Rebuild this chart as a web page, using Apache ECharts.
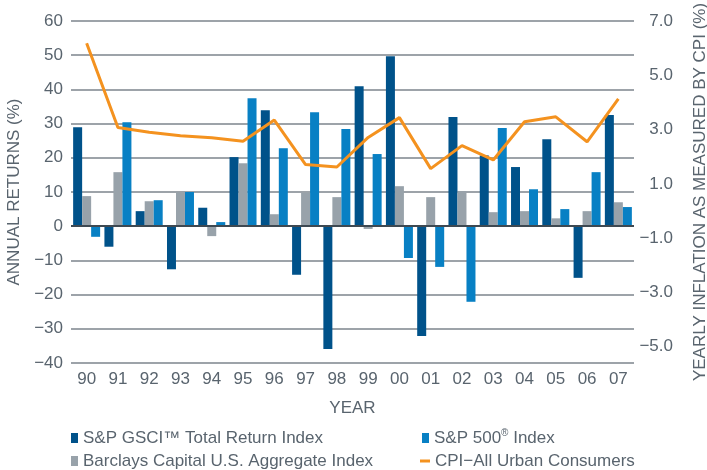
<!DOCTYPE html>
<html>
<head>
<meta charset="utf-8">
<script src="https://cdn.jsdelivr.net/npm/echarts@6/dist/echarts.min.js"></script>
<style>
html,body{margin:0;padding:0;background:#fff;}
#chart{width:707px;height:470px;}
</style>
</head>
<body>
<div id="chart"></div>
<script>
// ---- data ----
const categories = ['90','91','92','93','94','95','96','97','98','99','00','01','02','03','04','05','06','07'];
const gsci     = [28.9, -6.0, 4.4, -12.6, 5.4, 20.2, 33.9, -14.2, -35.9, 40.9, 49.7, -32.1, 31.9, 20.7, 17.3, 25.4, -15.1, 32.5];
const barclays = [8.8, 15.8, 7.3, 9.9, -2.9, 18.4, 3.5, 9.8, 8.5, -0.8, 11.7, 8.5, 10.2, 4.1, 4.4, 2.3, 4.4, 7.0];
const sp500    = [-3.1, 30.4, 7.6, 10.0, 1.2, 37.4, 22.8, 33.3, 28.4, 21.1, -9.3, -11.9, -22.1, 28.7, 10.8, 5.0, 15.8, 5.6];
const cpi      = [6.18, 3.08, 2.90, 2.77, 2.70, 2.57, 3.35, 1.71, 1.62, 2.71, 3.44, 1.56, 2.41, 1.88, 3.29, 3.47, 2.55, 4.13];
const rightTickLabels = [-5, -3, -1, 1, 3, 5, 7];
const names = ['S&P GSCI\u2122 Total Return Index', 'Barclays Capital U.S. Aggregate Index', 'S&P 500\u00AE Index', 'CPI\u2212All Urban Consumers'];

const FONT = "'Liberation Sans', Arial, sans-serif";
const TXT = '#59646e';
const C_GSCI = '#00528a', C_BAR = '#98a2aa', C_SP = '#0880c4', C_CPI = '#f4921f';

function minus(s){ return String(s).replace('-', '\u2212'); }

const chart = echarts.init(document.getElementById('chart'));
const legendBase = {
  orient: 'vertical', itemGap: 0, padding: 0,
  textStyle: {fontFamily: FONT, fontSize: 17, color: TXT, lineHeight: 20,
    rich: {
      n: {fontFamily: FONT, fontSize: 17, color: TXT, lineHeight: 20},
      sup: {fontSize: 10, verticalAlign: 'top', lineHeight: 20, padding: [0, 0, 8, 0], color: TXT, fontFamily: FONT}
    }},
  icon: 'rect', itemWidth: 7, itemHeight: 10, selectedMode: false
};
chart.setOption({
  animation: false,
  grid: {left: 71, right: 73, top: 21, bottom: 107, containLabel: false, outerBoundsMode: 'none'},
  legend: [
    Object.assign({}, legendBase, {left: 71, top: 428, data: [names[0]]}),
    Object.assign({}, legendBase, {left: 71, top: 451, data: [names[1]]}),
    Object.assign({}, legendBase, {left: 422, top: 428, data: [names[2]],
      formatter: function (n) { const p = n.split('\u00AE'); return '{n|' + p[0] + '}{sup|\u00AE}{n|' + p[1] + '}'; }}),
    Object.assign({}, legendBase, {left: 420, top: 451, itemWidth: 10, itemHeight: 3, data: [{name: names[3], icon: 'rect'}]})
  ],
  xAxis: {
    type: 'category', data: categories,
    name: 'YEAR', nameLocation: 'middle', nameGap: 37,
    nameTextStyle: {fontFamily: FONT, fontSize: 17, color: TXT},
    axisLine: {show: false, onZero: false},
    axisTick: {show: false},
    axisLabel: {fontFamily: FONT, fontSize: 17, color: TXT, margin: 8, interval: 0}
  },
  yAxis: [
    {
      type: 'value', min: -40, max: 60, interval: 10,
      name: 'ANNUAL RETURNS (%)', nameLocation: 'middle', nameGap: 41,
      nameTextStyle: {fontFamily: FONT, fontSize: 17, color: TXT},
      axisLine: {show: false}, axisTick: {show: false},
      axisLabel: {fontFamily: FONT, fontSize: 17, color: TXT, margin: 8, formatter: v => minus(v)},
      splitLine: {lineStyle: {color: '#7d858c', width: 1.5}}
    },
    {
      type: 'value', min: -5.6, max: 7, interval: 0.2, position: 'right',
      name: 'YEARLY INFLATION AS MEASURED BY CPI (%)', nameLocation: 'middle', nameGap: 58,
      nameTextStyle: {fontFamily: FONT, fontSize: 17, color: TXT},
      axisLine: {show: false}, axisTick: {show: false}, splitLine: {show: false},
      axisLabel: {
        fontFamily: FONT, fontSize: 17, color: TXT, margin: 39, align: 'right',
        formatter: function (v) {
          const r = Math.round(v * 10) / 10;
          for (const t of rightTickLabels) { if (Math.abs(r - t) < 1e-6) return minus(t.toFixed(1)); }
          return '';
        }
      }
    }
  ],
  series: [
    {name: names[0], type: 'bar', data: gsci, barWidth: 9, barGap: '0%', itemStyle: {color: C_GSCI},
     markLine: {silent: true, symbol: 'none', label: {show: false}, lineStyle: {color: '#3e4952', width: 2, type: 'solid'}, data: [{yAxis: 0}]}},
    {name: names[1], type: 'bar', data: barclays, barWidth: 9, barGap: '0%', itemStyle: {color: C_BAR}},
    {name: names[2], type: 'bar', data: sp500, barWidth: 9, barGap: '0%', itemStyle: {color: C_SP}},
    {name: names[3], type: 'line', yAxisIndex: 1, data: cpi, symbol: 'none', lineStyle: {color: C_CPI, width: 3}, itemStyle: {color: C_CPI}, z: 5}
  ]
});
</script>
</body>
</html>
